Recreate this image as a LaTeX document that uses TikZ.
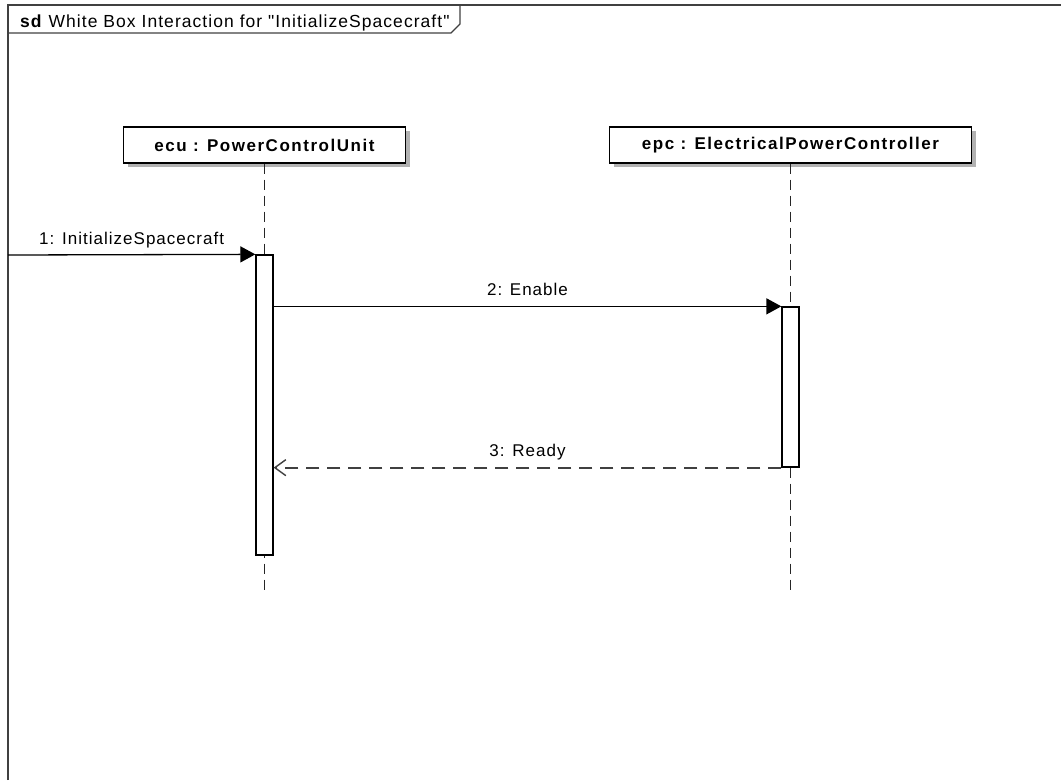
\documentclass[tikz,border=0pt]{standalone}
\usepackage{fontspec}
\setmainfont{Liberation Sans}
\newfontfamily\msgfont[LetterSpace=6]{Liberation Sans}
\newfontfamily\boxfont[LetterSpace=9]{Liberation Sans}
\usetikzlibrary{arrows.meta,positioning,shadows}

\tikzstyle{frameline} = [draw=black!75, line width=1.8pt]
\tikzstyle{lifebox} = [draw, line width=1.3pt, fill=white, minimum height=36pt, inner sep=0pt,
    font=\boxfont\bfseries\fontsize{17}{20}\selectfont,
    drop shadow={shadow xshift=4pt, shadow yshift=-4pt, fill=black!30, opacity=1}]
\tikzstyle{actbar} = [draw, line width=1.3pt, fill=white, minimum width=17pt, inner sep=0pt]
\tikzstyle{lifeline} = [draw=black!85, line width=1.6pt, dash pattern=on 10pt off 6pt]
\tikzstyle{call} = [draw, line width=1.3pt, -{Triangle[length=15pt,width=16pt]}]
\tikzstyle{reply} = [draw=black!75, line width=1.7pt, dash pattern=on 13pt off 8pt,
    -{Straight Barb[length=11pt,width=16pt,line width=1.4pt]}]
\tikzstyle{msg} = [above, inner sep=0pt, text depth=4pt, yshift=6pt,
    font=\msgfont\fontsize{17}{20}\selectfont]

\begin{document}
\begin{tikzpicture}[x=1pt, y=-1pt]
\useasboundingbox (0,0) rectangle (1061,780);

\draw[frameline] (8,780) -- (8,5) -- (1061,5);
\draw[black!75, line width=1.3pt] (8,33) -- (451,33) -- (460,24) -- (460,5);
\node[anchor=base west, inner sep=0pt, font=\msgfont\fontsize{17.5}{20}\selectfont] (sdlabel) at (20,27)
    {\textbf{sd} White Box Interaction for "InitializeSpacecraft"};

\node[lifebox, minimum width=282pt] (ecu) at (264.5,145) {ecu : PowerControlUnit};
\node[lifebox, minimum width=362pt] (epc) at (790.5,145) {epc : ElectricalPowerController};

\coordinate (ecuEnd) at (264.5,592);
\coordinate (epcEnd) at (790.5,592);
\draw[lifeline] (ecu.south) -- (ecuEnd);
\draw[lifeline] (epc.south) -- (epcEnd);

\node[actbar, minimum height=300pt] (ecuAct) at (264.5,405) {};
\node[actbar, minimum height=160pt] (epcAct) at (790.5,387) {};

\coordinate (caller) at (8,255);
\draw[call] (caller) -- (ecuAct.north west)
    node[msg, midway] {1: InitializeSpacecraft};
\draw[call] (ecuAct.east |- epcAct.north) -- (epcAct.north west)
    node[msg, midway] {2: Enable};
\draw[reply] (epcAct.south west) -- (ecuAct.east |- epcAct.south)
    node[msg, midway] {3: Ready};
\end{tikzpicture}
\end{document}
